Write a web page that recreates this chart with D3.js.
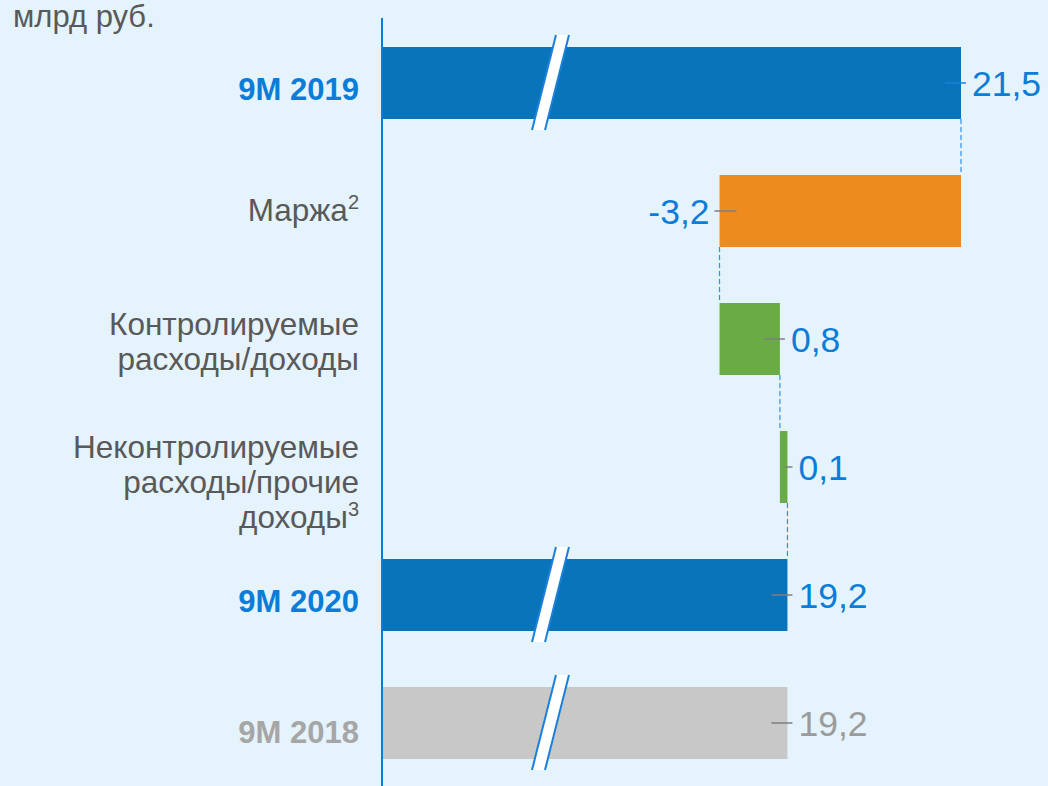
<!DOCTYPE html>
<html>
<head>
<meta charset="utf-8">
<script src="https://cdn.jsdelivr.net/npm/d3@7"></script>
<style>
  html, body { margin: 0; padding: 0; background: #E5F3FC; }
  svg { display: block; font-family: "Liberation Sans", Arial, sans-serif; }
</style>
</head>
<body>
<svg id="chart" width="1048" height="786"></svg>
<script>
// Waterfall: 9M 2019 -> 9M 2020 (млрд руб.)
const categories = ['9M 2019', 'Маржа', 'Контролируемые', 'Неконтролируемые', '9M 2020', '9M 2018'];
const labelLines = [
    ['9M 2019'],
    ['Маржа'],
    ['Контролируемые', 'расходы/доходы'],
    ['Неконтролируемые', 'расходы/прочие', 'доходы'],
    ['9M 2020'],
    ['9M 2018']
];
const footnotes = [null, '2', null, '3', null, null];
const values = [21.5, -3.2, 0.8, 0.1, 19.2, 19.2];
const kinds = ['total', 'delta', 'delta', 'delta', 'total', 'ref'];
const axisDomain = [13.84, 21.5];   // broken axis, zero is far off to the left

(function() {
    const svg = d3.select('#chart');
    const width = 1048;
    const height = 786;
    const plotLeft = 383;
    const plotRight = 961;

    const blue = '#0A74BA';
    const textBlue = '#0B7DD8';
    const grayText = '#595959';

    const fmt = d3.formatLocale({ decimal: ',', thousands: ' ', grouping: [3], currency: ['', ''], minus: '-' }).format('.1f');

    // waterfall start/end for every bar
    let running = 0;
    const bars = categories.map((c, i) => {
        const v = values[i];
        let start, end;
        if (kinds[i] === 'delta') {
            start = running;
            end = running + v;
            running = end;
        } else {
            start = axisDomain[0];
            end = v;
            if (kinds[i] === 'total') running = v;
        }
        return { cat: c, i, v, kind: kinds[i], start, end };
    });

    const x = d3.scaleLinear().domain(axisDomain).range([plotLeft, plotRight]);
    const y = d3.scaleBand()
        .domain(categories)
        .range([19, 787])
        .paddingInner(0.4375)
        .paddingOuter(0.21875);
    const bh = y.bandwidth();

    function barColor(d) {
        if (d.kind === 'total') return blue;
        if (d.kind === 'ref') return '#C8C8C8';
        return d.v < 0 ? '#EE8B1F' : '#6AAB46';
    }

    // unit label
    svg.append('text')
        .attr('x', 13)
        .attr('y', 27)
        .attr('font-size', '31px')
        .attr('fill', grayText)
        .text('млрд руб.');

    // connectors between bars
    bars.slice(0, -2).forEach((d, i) => {
        const next = bars[i + 1];
        svg.append('line')
            .attr('x1', x(d.end)).attr('x2', x(d.end))
            .attr('y1', y(d.cat) + bh)
            .attr('y2', y(next.cat))
            .attr('stroke', '#2F8FE4')
            .attr('stroke-width', 1.2)
            .attr('stroke-dasharray', '5,3');
    });

    // bars
    svg.selectAll('rect.bar')
        .data(bars)
        .join('rect')
        .attr('class', 'bar')
        .attr('x', d => x(Math.min(d.start, d.end)))
        .attr('y', d => y(d.cat))
        .attr('width', d => Math.abs(x(d.end) - x(d.start)))
        .attr('height', bh)
        .attr('fill', barColor);

    // axis break marks on the long bars
    const bx = 550;
    bars.filter(d => d.kind !== 'delta').forEach(d => {
        const top = y(d.cat) - 12;
        const bot = y(d.cat) + bh + 11;
        const pts = [[bx + 6, top], [bx + 19, top], [bx - 5, bot], [bx - 18, bot]];
        svg.append('polygon')
            .attr('points', pts.map(p => p.join(',')).join(' '))
            .attr('fill', '#fff');
        [[pts[0], pts[3]], [pts[1], pts[2]]].forEach(([a, b]) => {
            svg.append('line')
                .attr('x1', a[0]).attr('y1', a[1])
                .attr('x2', b[0]).attr('y2', b[1])
                .attr('stroke', '#1A80DA')
                .attr('stroke-width', 2);
        });
    });

    // vertical axis line
    svg.append('line')
        .attr('x1', 382).attr('x2', 382)
        .attr('y1', 18).attr('y2', height)
        .attr('stroke', '#0B7DD8')
        .attr('stroke-width', 2);

    // value labels with small leader ticks
    bars.forEach(d => {
        const cy = y(d.cat) + bh / 2;
        const ex = x(d.end);
        const neg = d.v < 0;
        const lo = x(Math.min(d.start, d.end));
        const x1 = neg ? ex - 5 : Math.max(ex - 16, lo + 5);
        const x2 = neg ? ex + 17 : ex + 5;
        svg.append('line')
            .attr('x1', x1).attr('x2', x2)
            .attr('y1', cy).attr('y2', cy)
            .attr('stroke', d.i === 0 ? '#1A80DA' : '#7F7F7F')
            .attr('stroke-width', 1.5);
        svg.append('text')
            .attr('x', neg ? ex - 10 : ex + 11)
            .attr('y', cy + 13)
            .attr('text-anchor', neg ? 'end' : 'start')
            .attr('font-size', '35.5px')
            .attr('fill', d.kind === 'ref' ? '#9B9B9B' : textBlue)
            .text(fmt(d.v));
    });

    // category labels
    bars.forEach(d => {
        const cy = y(d.cat) + bh / 2;
        const lines = labelLines[d.i];
        const bold = d.kind !== 'delta';
        const lh = 35;
        let base = cy + 10 - (lines.length - 1) * lh / 2;
        if (bold) base = cy + (d.kind === 'ref' ? 20 : 17);
        if (lines.length === 2) base += 3;
        if (lines.length === 3) base += 16;
        const t = svg.append('text')
            .attr('x', 359)
            .attr('y', base)
            .attr('text-anchor', 'end')
            .attr('font-size', bold ? '31px' : '31.5px')
            .attr('font-weight', bold ? 'bold' : 'normal')
            .attr('fill', d.kind === 'total' ? textBlue : d.kind === 'ref' ? '#A6A6A6' : grayText);
        lines.forEach((line, j) => {
            t.append('tspan')
                .attr('x', 359)
                .attr('y', base + j * lh)
                .text(line);
            if (j === lines.length - 1 && footnotes[d.i]) {
                t.append('tspan')
                    .attr('dy', -12)
                    .attr('font-size', '20px')
                    .text(footnotes[d.i]);
            }
        });
    });
})();
</script>
</body>
</html>
